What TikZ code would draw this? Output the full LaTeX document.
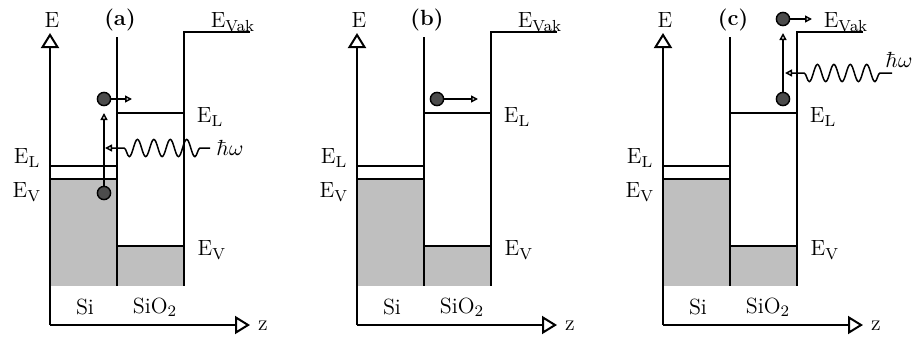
\documentclass[tikz,border=0pt]{standalone}
\usetikzlibrary{arrows.meta,decorations.pathmorphing}
\tikzset{
  band/.style={line width=1pt},
  axisarrow/.style={line width=1pt,-{Triangle[open,length=7.5pt,width=9pt]}},
  moveto/.style={line width=0.75pt,-{Triangle[open,length=3.5pt,width=3.5pt]}},
  photon/.style={line width=0.75pt,-{Triangle[open,length=3.5pt,width=3.5pt]},
    decoration={snake,segment length=8.2pt,amplitude=4.3pt}},
  electron/.style={circle,draw,line width=0.7pt,fill=black!70,minimum size=6.6pt,inner sep=0pt},
  lbl/.style={font=\fontsize{11}{13}\selectfont,inner sep=0pt},
  lblbf/.style={font=\fontsize{11}{13}\selectfont\bfseries,inner sep=0pt},
}
\begin{document}
\begin{tikzpicture}[x=0.5pt,y=-0.5pt]
\useasboundingbox (0,0) rectangle (916,338);
% the three band diagrams
\foreach \p/\dx in {a/50,b/357,c/663}{
  \begin{scope}[shift={(\dx,0)}]
    \fill[black!25] (0,179) rectangle (67,286);
    \fill[black!25] (67,246) rectangle (134,286);
    \coordinate (O-\p) at (0,325);
    \coordinate (Etop-\p) at (0,33);
    \coordinate (zend-\p) at (200,325);
    \draw[axisarrow] (O-\p) -- (Etop-\p);
    \draw[axisarrow] (O-\p) -- (zend-\p);
    \draw[band] (67,37) -- (67,286);
    \draw[band] (200,32) -- (134,32) -- (134,286);
    \draw[band] (0,166) -- (67,166);
    \draw[line width=0.6pt] (0,179) -- (67,179);
    \draw[band] (67,113) -- (134,113);
    \draw[band] (67,246) -- (134,246);
    \node[lbl] (E-\p) at (2,20) {E};
    \node[lblbf] (title-\p) at (70,20) {(\p)};
    \node[lbl] (vak-\p) at (183,22) {E$_\mathrm{Vak}$};
    \node[lbl] (ELsi-\p) at (-23,158) {E$_\mathrm{L}$};
    \node[lbl] (EVsi-\p) at (-23,192) {E$_\mathrm{V}$};
    \node[lbl] (ELox-\p) at (160,117) {E$_\mathrm{L}$};
    \node[lbl] (EVox-\p) at (162,250) {E$_\mathrm{V}$};
    \node[lbl] (si-\p) at (35,307) {Si};
    \node[lbl] (sio-\p) at (105,307) {SiO$_2$};
    \node[lbl] (z-\p) at (213,326) {z};
  \end{scope}
}
% (a) absorption in Si
\begin{scope}[shift={(50,0)}]
  \node[electron] (ea1) at (54,193) {};
  \node[electron] (ea2) at (54,99) {};
  \coordinate (ea1end) at (54,113);
  \coordinate (ea2end) at (82,99);
  \draw[moveto] (ea1) -- (ea1end);
  \draw[moveto] (ea2) -- (ea2end);
  \node[lbl] (hw-a) at (180,148) {$\hbar\omega$};
  \coordinate (wa0) at (160,148);
  \coordinate (wa1) at (150,148);
  \coordinate (wa2) at (68,148);
  \coordinate (wa3) at (55,148);
  \draw[photon] (wa0) -- (wa1) decorate{-- (wa2)} -- (wa3);
\end{scope}
% (b) transport in SiO2
\begin{scope}[shift={(357,0)}]
  \node[electron] (eb1) at (80,99) {};
  \coordinate (eb1end) at (121,99);
  \draw[moveto] (eb1) -- (eb1end);
\end{scope}
% (c) emission into vacuum
\begin{scope}[shift={(663,0)}]
  \node[electron] (ec1) at (120,99) {};
  \node[electron] (ec2) at (120,19) {};
  \coordinate (ec1end) at (120,33);
  \coordinate (ec2end) at (149,19);
  \draw[moveto] (ec1) -- (ec1end);
  \draw[moveto] (ec2) -- (ec2end);
  \node[lbl] (hw-c) at (236,60) {$\hbar\omega$};
  \coordinate (wc0) at (229,73);
  \coordinate (wc1) at (217,73);
  \coordinate (wc2) at (134,73);
  \coordinate (wc3) at (122,73);
  \draw[photon] (wc0) -- (wc1) decorate{-- (wc2)} -- (wc3);
\end{scope}
\end{tikzpicture}
\end{document}
